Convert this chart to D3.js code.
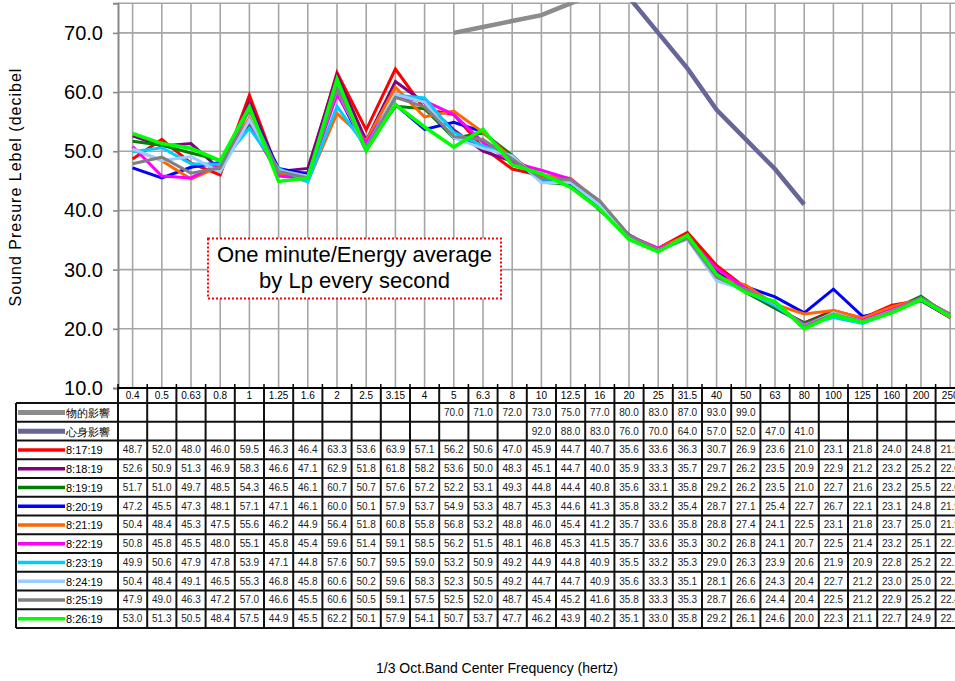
<!DOCTYPE html>
<html>
<head>
<meta charset="utf-8">
<script src="https://cdn.jsdelivr.net/npm/d3@7"></script>
<style>
  html, body { margin: 0; padding: 0; background: #fff; }
  svg { display: block; font-family: "Liberation Sans", Arial, sans-serif; }
</style>
</head>
<body>
<svg id="chart" width="955" height="681"></svg>
<script>
// 1/3 octave band centre frequencies (Hz)
const categories = ["0.4","0.5","0.63","0.8","1","1.25","1.6","2","2.5","3.15","4","5","6.3","8","10","12.5","16","20","25","31.5","40","50","63","80","100","125","160","200","250"];

// Reference curves
const physicalEffect = [null,null,null,null,null,null,null,null,null,null,null,70.0,71.0,72.0,73.0,75.0,77.0,80.0,83.0,87.0,93.0,99.0,null,null,null,null,null,null,null];
const mentalEffect   = [null,null,null,null,null,null,null,null,null,null,null,null,null,null,92.0,88.0,83.0,76.0,70.0,64.0,57.0,52.0,47.0,41.0,null,null,null,null,null];

// One-minute energy averages
const m081719 = [48.7,52.0,48.0,46.0,59.5,46.3,46.4,63.3,53.6,63.9,57.1,56.2,50.6,47.0,45.9,44.7,40.7,35.6,33.6,36.3,30.7,26.9,23.6,21.0,23.1,21.8,24.0,24.8,21.9];
const m081819 = [52.6,50.9,51.3,46.9,58.3,46.6,47.1,62.9,51.8,61.8,58.2,53.6,50.0,48.3,45.1,44.7,40.0,35.9,33.3,35.7,29.7,26.2,23.5,20.9,22.9,21.2,23.2,25.2,22.0];
const m081919 = [51.7,51.0,49.7,48.5,54.3,46.5,46.1,60.7,50.7,57.6,57.2,52.2,53.1,49.3,44.8,44.4,40.8,35.6,33.1,35.8,29.2,26.2,23.5,21.0,22.7,21.6,23.2,25.5,22.0];
const m082019 = [47.2,45.5,47.3,48.1,57.1,47.1,46.1,60.0,50.1,57.9,53.7,54.9,53.3,48.7,45.3,44.6,41.3,35.8,33.2,35.4,28.7,27.1,25.4,22.7,26.7,22.1,23.1,24.8,21.9];
const m082119 = [50.4,48.4,45.3,47.5,55.6,46.2,44.9,56.4,51.8,60.8,55.8,56.8,53.2,48.8,46.0,45.4,41.2,35.7,33.6,35.8,28.8,27.4,24.1,22.5,23.1,21.8,23.7,25.0,21.9];
const m082219 = [50.8,45.8,45.5,48.0,55.1,45.8,45.4,59.6,51.4,59.1,58.5,56.2,51.5,48.1,46.8,45.3,41.5,35.7,33.6,35.3,30.2,26.8,24.1,20.7,22.5,21.4,23.2,25.1,22.5];
const m082319 = [49.9,50.6,47.9,47.8,53.9,47.1,44.8,57.6,50.7,59.5,59.0,53.2,50.9,49.2,44.9,44.8,40.9,35.5,33.2,35.3,29.0,26.3,23.9,20.6,21.9,20.9,22.8,25.2,22.1];
const m082419 = [50.4,48.4,49.1,46.5,55.3,46.8,45.8,60.6,50.2,59.6,58.3,52.3,50.5,49.2,44.7,44.7,40.9,35.6,33.3,35.1,28.1,26.6,24.3,20.4,22.7,21.2,23.0,25.0,22.1];
const m082519 = [47.9,49.0,46.3,47.2,57.0,46.6,45.5,60.6,50.5,59.1,57.5,52.5,52.0,48.7,45.4,45.2,41.6,35.8,33.3,35.3,28.7,26.6,24.4,20.4,22.5,21.2,22.9,25.2,22.4];
const m082619 = [53.0,51.3,50.5,48.4,57.5,44.9,45.5,62.2,50.1,57.9,54.1,50.7,53.7,47.7,46.2,43.9,40.2,35.1,33.0,35.8,29.2,26.1,24.6,20.0,22.3,21.1,22.7,24.9,22.1];

const seriesNames = ["物的影響","心身影響","8:17:19","8:18:19","8:19:19","8:20:19","8:21:19","8:22:19","8:23:19","8:24:19","8:25:19","8:26:19"];
const seriesValues = [physicalEffect, mentalEffect, m081719, m081819, m081919, m082019, m082119, m082219, m082319, m082419, m082519, m082619];
const seriesColors = ["#8c8c8c","#666699","#ff0000","#800080","#008000","#0000ff","#ff6600","#ff00ff","#00ccff","#99ccff","#808080","#00ff00"];
const seriesWidths = [4.5,4.5,3,3,3,3,3,3,3,3,3,3.5];

const yTicks = [10,20,30,40,50,60,70];

const series = seriesNames.map((name, i) => ({ name, values: seriesValues[i], color: seriesColors[i], width: seriesWidths[i] }));

// ---- layout ----
const svg = d3.select("#chart");
const plotLeft = 118, plotTop = 3.3, plotBottom = 388;
const band = 29.2;
const tableLeft = 16;
const headerBottom = 403;
const rowH = 18.75;

const x = d3.scaleBand().domain(categories).range([plotLeft, plotLeft + band * categories.length]).paddingInner(0).paddingOuter(0);
const xc = c => x(c) + x.bandwidth() / 2;
const y = d3.scaleLinear().domain([10, 75]).range([plotBottom, plotTop]);

const gridColor = "#a6a6a6";

// clip for plot area
svg.append("defs").append("clipPath").attr("id", "plotClip")
  .append("rect").attr("x", plotLeft).attr("y", plotTop - 1)
  .attr("width", 955 - plotLeft).attr("height", plotBottom - plotTop + 1);

// horizontal gridlines
const grid = svg.append("g");
grid.selectAll("line.h").data(yTicks.filter(t => t > 10).concat([75])).join("line")
  .attr("x1", plotLeft).attr("x2", 955)
  .attr("y1", d => y(d)).attr("y2", d => y(d))
  .attr("stroke", gridColor).attr("stroke-width", 1.6);

// vertical gridlines at each band centre
grid.selectAll("line.v").data(categories).join("line")
  .attr("x1", d => xc(d)).attr("x2", d => xc(d))
  .attr("y1", plotTop).attr("y2", plotBottom)
  .attr("stroke", gridColor).attr("stroke-width", 1.6);

// y axis
const yAxis = d3.axisLeft(y).tickValues(yTicks).tickFormat(d3.format(".1f")).tickSize(5).tickPadding(10);
const ya = svg.append("g").attr("transform", `translate(${plotLeft},0)`).call(yAxis);
ya.select(".domain").attr("stroke", "#888").attr("stroke-width", 2);
ya.selectAll(".tick line").attr("stroke", "#888").attr("stroke-width", 1.6);
ya.selectAll(".tick text").attr("font-size", 20).attr("fill", "#000")
  .attr("font-family", "Liberation Sans, Arial, sans-serif");

// y axis title
svg.append("text")
  .attr("transform", "translate(21,187) rotate(-90)")
  .attr("text-anchor", "middle")
  .attr("font-size", 16).attr("letter-spacing", 1).attr("fill", "#000")
  .text("Sound Presure Lebel (decibel");

// lines
const line = d3.line()
  .defined(d => d.v !== null)
  .x(d => xc(d.c))
  .y(d => y(d.v));

const lines = svg.append("g").attr("clip-path", "url(#plotClip)");
lines.selectAll("path").data(series).join("path")
  .attr("d", s => line(s.values.map((v, i) => ({ c: categories[i], v }))))
  .attr("fill", "none")
  .attr("stroke", s => s.color)
  .attr("stroke-width", s => s.width)
  .attr("stroke-linejoin", "miter");

// annotation box
const note = svg.append("g");
note.append("rect").attr("x", 208).attr("y", 238.5).attr("width", 293).attr("height", 60)
  .attr("fill", "#fff").attr("stroke", "#ff0000").attr("stroke-width", 2).attr("stroke-dasharray", "2,2");
note.append("text").attr("x", 354.5).attr("y", 262).attr("text-anchor", "middle")
  .attr("font-size", 22).attr("fill", "#000").text("One minute/Energy average");
note.append("text").attr("x", 354.5).attr("y", 288).attr("text-anchor", "middle")
  .attr("font-size", 22).attr("fill", "#000").text("by Lp every second");

// ---- data table ----
const table = svg.append("g");
const tableBottom = headerBottom + rowH * series.length;
const tableRight = plotLeft + band * categories.length;

// header labels
table.selectAll("text.hdr").data(categories).join("text")
  .attr("x", d => xc(d)).attr("y", (plotBottom + headerBottom) / 2 + 3.6)
  .attr("text-anchor", "middle").attr("font-size", 10).attr("fill", "#000")
  .text(d => d);

// row contents
series.forEach((s, r) => {
  const cy = headerBottom + rowH * (r + 0.5);
  table.append("line")
    .attr("x1", 18).attr("x2", 65).attr("y1", cy).attr("y2", cy)
    .attr("stroke", s.color).attr("stroke-width", r < 2 ? 5 : 3.5);
  table.append("text")
    .attr("x", 66).attr("y", cy + 4.5)
    .attr("font-size", 11).attr("fill", "#000")
    .text(s.name);
  table.selectAll(null).data(s.values.map((v, i) => ({ c: categories[i], v })).filter(d => d.v !== null)).join("text")
    .attr("x", d => xc(d.c)).attr("y", cy + 3.6)
    .attr("text-anchor", "middle").attr("font-size", 10).attr("fill", "#222")
    .text(d => d.v.toFixed(1));
});

// table rules
const hRules = d3.range(series.length + 1).map(i => headerBottom + rowH * i);
table.selectAll("line.hr").data(hRules).join("line")
  .attr("x1", tableLeft).attr("x2", tableRight)
  .attr("y1", d => d).attr("y2", d => d)
  .attr("stroke", "#111").attr("stroke-width", 2);
const vBounds = categories.map(c => x(c)).concat([tableRight]);
table.selectAll("line.vr").data(vBounds).join("line")
  .attr("x1", d => d).attr("x2", d => d)
  .attr("y1", plotBottom).attr("y2", tableBottom)
  .attr("stroke", "#111").attr("stroke-width", 2);
table.append("line").attr("x1", tableLeft).attr("x2", tableLeft)
  .attr("y1", headerBottom).attr("y2", tableBottom)
  .attr("stroke", "#111").attr("stroke-width", 2);

// category axis line with small ticks
svg.append("line").attr("x1", plotLeft).attr("x2", tableRight)
  .attr("y1", plotBottom).attr("y2", plotBottom)
  .attr("stroke", "#000").attr("stroke-width", 2.2);
svg.selectAll("line.xt").data(vBounds).join("line")
  .attr("x1", d => d).attr("x2", d => d)
  .attr("y1", plotBottom - 4).attr("y2", plotBottom)
  .attr("stroke", "#000").attr("stroke-width", 1.5);

// x axis title
svg.append("text")
  .attr("x", 497).attr("y", 673).attr("text-anchor", "middle")
  .attr("font-size", 14).attr("fill", "#000")
  .text("1/3 Oct.Band Center Frequency (hertz)");
</script>
</body>
</html>
